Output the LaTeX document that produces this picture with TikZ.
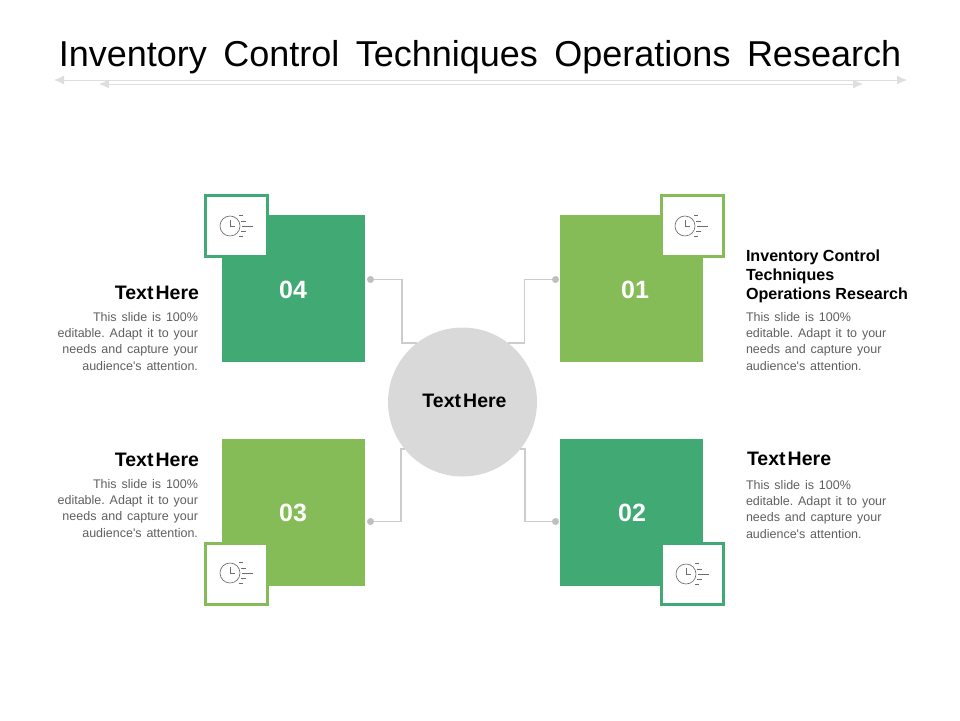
\documentclass[tikz,border=0pt]{standalone}
\usepackage{fontspec}
\setmainfont{Liberation Sans}
\newfontfamily\bodyfont[WordSpace=1.4]{Liberation Sans}
\usetikzlibrary{arrows.meta}
\frenchspacing
\definecolor{teal}{HTML}{41A973}
\definecolor{leaf}{HTML}{86BC57}
\definecolor{hubgrey}{HTML}{D9D9D9}
\definecolor{wire}{HTML}{CCCCCC}
\definecolor{dotgrey}{HTML}{BFBFBF}
\definecolor{bodygrey}{HTML}{5F5F5F}
\definecolor{rulegrey}{HTML}{DEDEDE}
\definecolor{iconline}{HTML}{6E6E6E}
\tikzset{
 x=1pt,y=-1pt,
 every node/.style={inner sep=0pt,outer sep=0pt},
 tile/.style={fill=#1,minimum width=143pt,minimum height=147pt},
 numlabel/.style={text=white,font=\fontsize{25}{25}\selectfont\bfseries},
 iconbox/.style={draw=#1,fill=white,line width=2.8pt,minimum width=62.5pt,minimum height=61.5pt},
 hubnode/.style={circle,fill=hubgrey,minimum size=149pt},
 dotnode/.style={circle,fill=dotgrey,minimum size=7pt},
 wireline/.style={draw=wire,line width=1.1pt},
 heading/.style={font=\fontsize{19.5}{19.5}\selectfont\bfseries,text=black},
 bodyright/.style={font=\fontsize{12.5}{16.2}\selectfont\bodyfont,text=bodygrey,align=right,anchor=north east},
 bodyleft/.style={font=\fontsize{12.5}{16.2}\selectfont\bodyfont,text=bodygrey,align=left,anchor=north west},
 rulearrow/.style={draw=rulegrey,line width=1pt,{Latex[length=10pt,width=9pt]}-{Latex[length=10pt,width=9pt]}},
}
\newcommand{\clockicon}[1]{%
 \begin{scope}[shift={(#1)},draw=iconline,line width=.65pt]
  \draw (0,0) circle[radius=10];
  \draw (0,-6) -- (0,0) -- (5,0);
  \draw (9,-11) -- (13,-11);
  \draw (11,-5) -- (16,-5);
  \draw (12,0) -- (23,0);
  \draw (11,5) -- (16,5);
  \draw (9,10) -- (13,10);
 \end{scope}}
\begin{document}
\begin{tikzpicture}
\useasboundingbox (0,0) rectangle (960,720);
\node[font=\fontsize{36}{40}\selectfont,text=black,anchor=base,name=title] at (480,66) {Inventory\hspace{.18em} Control\hspace{.18em} Techniques\hspace{.18em} Operations\hspace{.18em} Research};
\coordinate (ra) at (54,80); \coordinate (rb) at (907,80);
\coordinate (rc) at (99,84); \coordinate (rd) at (863,84);
\draw[rulearrow] (ra) -- (rb);
\draw[rulearrow] (rc) -- (rd);
\node[tile=teal] (t4) at (293.5,288.5) {};
\node[tile=leaf] (t1) at (631.5,288.5) {};
\node[tile=leaf] (t3) at (293.5,512.5) {};
\node[tile=teal] (t2) at (631.5,512.5) {};
\node[numlabel] (n4) at (293,290) {04};
\node[numlabel] (n1) at (635,290) {01};
\node[numlabel] (n3) at (293,513) {03};
\node[numlabel] (n2) at (632,513) {02};
\node[iconbox=teal] (i4) at (236.5,226) {};
\node[iconbox=leaf] (i1) at (692.5,226) {};
\node[iconbox=leaf] (i3) at (236.5,574) {};
\node[iconbox=teal] (i2) at (692.5,574) {};
\clockicon{230,226}
\clockicon{685,226}
\clockicon{230,573}
\clockicon{686,574}
\node[hubnode] (hub) at (462.5,402) {};
\node[heading] (hl) at (464.5,401) {Text\hspace{-.17em} Here};
\node[dotnode] (d4) at (370.5,279.5) {};
\node[dotnode] (d1) at (555.5,279.5) {};
\node[dotnode] (d3) at (370.5,521.5) {};
\node[dotnode] (d2) at (555.5,521.5) {};
\coordinate (k4) at (402,343); \coordinate (e4) at (417,343);
\coordinate (k1) at (524.5,343); \coordinate (e1) at (508,343);
\coordinate (k3) at (401,449); \coordinate (e3) at (405,449);
\coordinate (k2) at (525,449); \coordinate (e2) at (520,449);
\draw[wireline] (d4) -| (k4) -- (e4);
\draw[wireline] (d1) -| (k1) -- (e1);
\draw[wireline] (d3) -| (k3) -- (e3);
\draw[wireline] (d2) -| (k2) -- (e2);
\node[heading,anchor=east] (h4) at (199,293) {Text\hspace{-.17em} Here};
\node[bodyright] (b4) at (198,312.5) {This slide is 100\%\\editable. Adapt it to your\\needs and capture your\\audience's attention.};
\node[heading,anchor=east] (h3) at (199,460) {Text\hspace{-.17em} Here};
\node[bodyright] (b3) at (198,479.5) {This slide is 100\%\\editable. Adapt it to your\\needs and capture your\\audience's attention.};
\node[font=\fontsize{16.1}{19}\selectfont\bfseries,text=black,align=left,anchor=north west] (h1) at (746,250) {Inventory Control\\Techniques\\Operations Research};
\node[bodyleft] (b1) at (746,312.5) {This slide is 100\%\\editable. Adapt it to your\\needs and capture your\\audience's attention.};
\node[heading,anchor=west] (h2) at (747,459) {Text\hspace{-.17em} Here};
\node[bodyleft] (b2) at (746,480.5) {This slide is 100\%\\editable. Adapt it to your\\needs and capture your\\audience's attention.};
\end{tikzpicture}
\end{document}
